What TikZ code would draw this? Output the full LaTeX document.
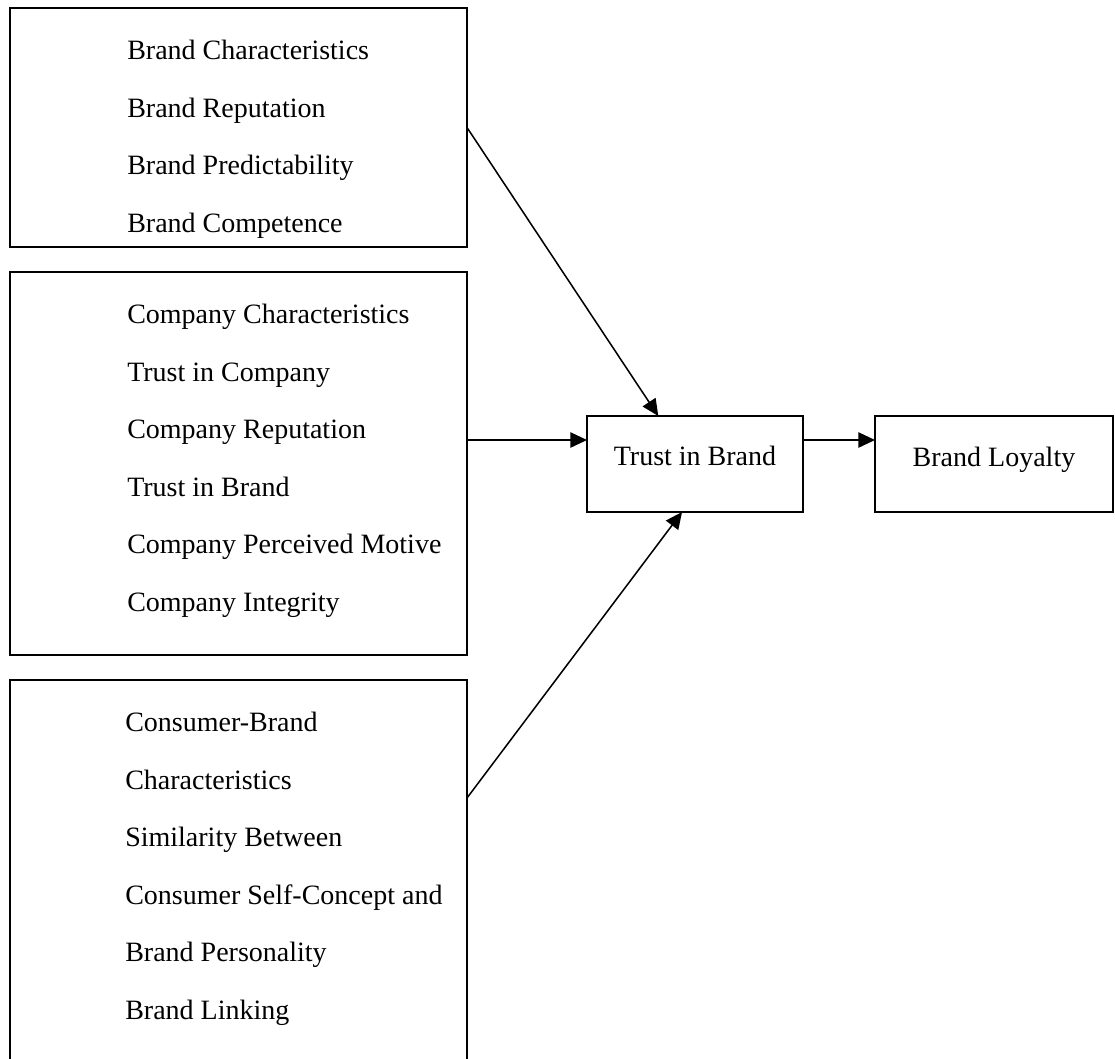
\documentclass[tikz,border=0pt]{standalone}
\usepackage{fontspec}
\setmainfont{Liberation Serif}
\usetikzlibrary{arrows.meta,calc}
\begin{document}
\begin{tikzpicture}[x=0.75pt,y=-0.75pt,
  frame/.style={draw=black, line width=1.1pt, rectangle, anchor=north west,
                inner sep=0pt, outer sep=0pt},
  heavyframe/.style={frame, line width=1.8pt},
  item/.style={anchor=base west, inner sep=0pt, font=\fontsize{21pt}{25pt}\selectfont},
  title/.style={anchor=base, inner sep=0pt, font=\fontsize{21pt}{25pt}\selectfont},
  link/.style={line width=1.15pt, -{Triangle[length=12.5pt,width=11.5pt]}}]
\clip (0,0) rectangle (1115,1058);
\useasboundingbox (0,0) rectangle (1115,1058);

% antecedent groups
\node[frame, minimum width=342.75pt, minimum height=179.25pt] (brand) at (10,8) {};
\node[frame, minimum width=342.75pt, minimum height=287.25pt] (company) at (10,272) {};
\node[heavyframe, minimum width=342.75pt, minimum height=296.25pt] (consumer) at (10,680) {};

\foreach \t [count=\i] in {Brand Characteristics, Brand Reputation,
    Brand Predictability, Brand Competence}
  \node[item] (brand-\i) at (127, {59.5+57.5*(\i-1)}) {\t};

\foreach \t [count=\i] in {Company Characteristics, Trust in Company,
    Company Reputation, Trust in Brand, Company Perceived Motive, Company Integrity}
  \node[item] (company-\i) at (127, {323.5+57.5*(\i-1)}) {\t};

\foreach \t [count=\i] in {Consumer-Brand, Characteristics, Similarity Between,
    Consumer Self-Concept and, Brand Personality, Brand Linking}
  \node[item] (consumer-\i) at (125, {731.5+57.5*(\i-1)}) {\t};

% outcome chain
\node[frame, minimum width=162pt, minimum height=72pt] (trust) at (587,416) {};
\node[frame, minimum width=178.5pt, minimum height=72pt] (loyalty) at (875,416) {};
\node[title] (trust-text) at (695,465) {Trust in Brand};
\node[title] (loyalty-text) at (994,466) {Brand Loyalty};

% connectors
\coordinate (tin) at ($(trust.north west)!0.25!(trust.south west)$);
\coordinate (tout) at ($(trust.north east)!0.25!(trust.south east)$);
\coordinate (c-out) at ($(consumer.north east)+(0,118)$);

\draw[link] (brand.east) -- ($(trust.north west)!0.33!(trust.north east)$);
\draw[link] (company.east |- tin) -- (tin);
\draw[link] (c-out) -- ($(trust.south west)!0.44!(trust.south east)$);
\draw[link] (tout) -- (loyalty.west |- tout);
\end{tikzpicture}
\end{document}
